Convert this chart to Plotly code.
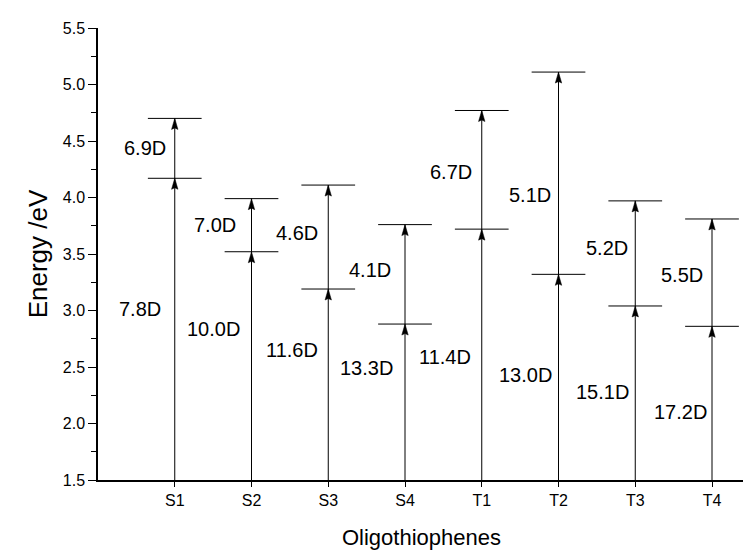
import plotly.graph_objects as go

# ---- data ----
molecules = ["S1", "S2", "S3", "S4", "T1", "T2", "T3", "T4"]
level_mid = [4.17, 3.52, 3.19, 2.88, 3.72, 3.32, 3.04, 2.86]   # first excited level (eV)
level_top = [4.70, 3.99, 4.11, 3.76, 4.77, 5.11, 3.97, 3.81]   # second level (eV)
base_energy = 1.5
dipole_lower = ["7.8D", "10.0D", "11.6D", "13.3D", "11.4D", "13.0D", "15.1D", "17.2D"]
dipole_upper = ["6.9D", "7.0D", "4.6D", "4.1D", "6.7D", "5.1D", "5.2D", "5.5D"]
# label anchor heights (eV)
lower_label_y = [3.01, 2.84, 2.65, 2.49, 2.59, 2.43, 2.28, 2.10]
upper_label_y = [4.44, 3.76, 3.69, 3.36, 4.23, 4.02, 3.55, 3.31]
y_tickvals = [1.5, 2.0, 2.5, 3.0, 3.5, 4.0, 4.5, 5.0, 5.5]
y_ticktext = ["1.5", "2.0", "2.5", "3.0", "3.5", "4.0", "4.5", "5.0", "5.5"]

# ---- style ----
FONT = "Liberation Sans, Arial, sans-serif"
HALF_W = 0.35
lower_gap_px = [12, 10, 8, 10, 9, 5, 4, 3]
upper_gap_px = [7, 14, 8, 12, 8, 6, 5, 7]

xpos = list(range(1, len(molecules) + 1))

lx, ly = [], []
for x, m, t in zip(xpos, level_mid, level_top):
    lx += [x, x, None]
    ly += [base_energy, t, None]
    for lv in (m, t):
        lx += [x - HALF_W, x + HALF_W, None]
        ly += [lv, lv, None]

fig = go.Figure()
fig.add_trace(go.Scatter(x=lx, y=ly, mode="lines",
                         line=dict(color="black", width=1),
                         hoverinfo="skip", showlegend=False))

shapes = []
for x, m, t in zip(xpos, level_mid, level_top):
    for lv in (m, t):
        shapes.append(dict(type="path", xref="x", yref="y",
                           xsizemode="pixel", ysizemode="pixel",
                           xanchor=x, yanchor=lv,
                           path="M0,0 L-3.2,-11 L0,-9.5 L3.2,-11 Z",
                           fillcolor="black", line=dict(color="black", width=0.5)))

annotations = []
for x, txt, yy, g in zip(xpos, dipole_lower, lower_label_y, lower_gap_px):
    annotations.append(dict(x=x, y=yy, xref="x", yref="y", text=txt, showarrow=False,
                            xanchor="right", yanchor="middle", xshift=-g,
                            font=dict(family=FONT, size=20, color="black")))
for x, txt, yy, g in zip(xpos, dipole_upper, upper_label_y, upper_gap_px):
    annotations.append(dict(x=x, y=yy, xref="x", yref="y", text=txt, showarrow=False,
                            xanchor="right", yanchor="middle", xshift=-g,
                            font=dict(family=FONT, size=20, color="black")))

fig.update_layout(
    width=751, height=550, autosize=False,
    margin=dict(l=90, r=14, t=18, b=76),
    paper_bgcolor="white", plot_bgcolor="white",
    shapes=shapes, annotations=annotations,
    font=dict(family=FONT, color="black"),
    xaxis=dict(range=[0, 8.43], tickvals=xpos, ticktext=molecules,
               showgrid=False, zeroline=False, showline=True,
               linecolor="black", linewidth=1.5, ticks="outside", ticklen=5,
               tickcolor="black", tickfont=dict(family=FONT, size=16),
               title=dict(text="Oligothiophenes", font=dict(family=FONT, size=22), standoff=22)),
    yaxis=dict(range=[1.5, 5.5], tickvals=y_tickvals, ticktext=y_ticktext,
               showgrid=False, zeroline=False, showline=True,
               linecolor="black", linewidth=1.5, ticks="outside", ticklen=8,
               tickcolor="black", tickfont=dict(family=FONT, size=16),
               minor=dict(dtick=0.25, ticks="outside", ticklen=5, tickcolor="black"),
               title=dict(text="Energy /eV", font=dict(family=FONT, size=26), standoff=8)),
)

fig.write_html("out.html")
